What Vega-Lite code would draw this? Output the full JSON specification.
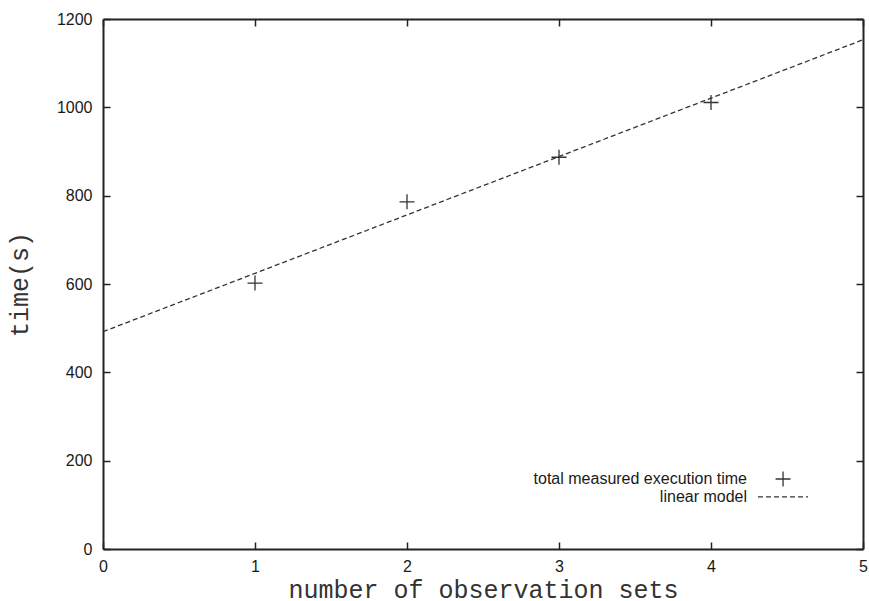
{
  "$schema": "https://vega.github.io/schema/vega-lite/v6.json",
  "width": 760,
  "height": 530,
  "autosize": {"type": "none"},
  "padding": {"left": 103, "top": 19, "right": 6, "bottom": 52},
  "background": "white",
  "config": {
    "view": {"stroke": null},
    "axis": {
      "domainColor": "#222222",
      "domainWidth": 2,
      "tickColor": "#222222",
      "tickWidth": 1.5,
      "tickSize": -7,
      "grid": false,
      "labelFont": "Liberation Sans",
      "labelFontSize": 16,
      "labelColor": "#1a1a1a",
      "labelOverlap": false,
      "labelFlush": false,
      "labelBound": false,
      "titleFont": "Liberation Mono",
      "titleFontSize": 25,
      "titleFontWeight": "normal",
      "titleColor": "#333333"
    }
  },
  "datasets": {
    "measured": [
      {"sets": 1, "time": 602},
      {"sets": 2, "time": 786},
      {"sets": 3, "time": 887},
      {"sets": 4, "time": 1011}
    ],
    "model": [
      {"sets": 0, "time": 492},
      {"sets": 5, "time": 1153}
    ]
  },
  "layer": [
    {
      "data": {"name": "model"},
      "mark": {"type": "line", "color": "#333333", "strokeWidth": 1.3, "strokeDash": [5, 3], "clip": true},
      "encoding": {
        "x": {"field": "sets", "type": "quantitative", "scale": {"domain": [0, 5], "nice": false},
          "axis": {"orient": "bottom", "title": "number of observation sets", "format": "d", "values": [0, 1, 2, 3, 4, 5], "labelPadding": 16, "titleY": 48, "titleBaseline": "alphabetic", "titleX": 380, "titleAlign": "center"}},
        "y": {"field": "time", "type": "quantitative", "scale": {"domain": [0, 1200], "nice": false},
          "axis": {"orient": "left", "title": "time(s)", "format": "d", "values": [0, 200, 400, 600, 800, 1000, 1200], "labelPadding": 18, "titleX": -84, "titleY": 265, "titleAngle": -90, "titleAlign": "center", "titleBaseline": "middle"}}
      }
    },
    {
      "data": {"name": "measured"},
      "mark": {"type": "point", "shape": "M-1,0H1M0,-1V1", "filled": false, "color": "#333333", "strokeWidth": 1.3, "size": 225, "opacity": 1},
      "encoding": {
        "x": {"field": "sets", "type": "quantitative",
          "axis": {"orient": "top", "title": null, "labels": false, "values": [0, 1, 2, 3, 4, 5]}},
        "y": {"field": "time", "type": "quantitative",
          "axis": {"orient": "right", "title": null, "labels": false, "values": [0, 200, 400, 600, 800, 1000, 1200]}}
      }
    },
    {
      "data": {"values": [{"label": "total measured execution time"}]},
      "mark": {"type": "text", "align": "right", "baseline": "middle", "font": "Liberation Sans", "fontSize": 16, "color": "#1a1a1a"},
      "encoding": {
        "x": {"datum": 4.237, "type": "quantitative", "axis": null},
        "y": {"datum": 158.5, "type": "quantitative", "axis": null},
        "text": {"field": "label"}
      }
    },
    {
      "data": {"values": [{"label": "linear model"}]},
      "mark": {"type": "text", "align": "right", "baseline": "middle", "font": "Liberation Sans", "fontSize": 16, "color": "#1a1a1a"},
      "encoding": {
        "x": {"datum": 4.237, "type": "quantitative", "axis": null},
        "y": {"datum": 118, "type": "quantitative", "axis": null},
        "text": {"field": "label"}
      }
    },
    {
      "data": {"values": [{"k": "total measured execution time"}]},
      "mark": {"type": "point", "shape": "M-1,0H1M0,-1V1", "filled": false, "color": "#333333", "strokeWidth": 1.3, "size": 225, "opacity": 1},
      "encoding": {
        "x": {"datum": 4.474, "type": "quantitative", "axis": null},
        "y": {"datum": 158.5, "type": "quantitative", "axis": null}
      }
    },
    {
      "data": {"values": [{"k": "linear model"}]},
      "mark": {"type": "rule", "color": "#333333", "strokeWidth": 1.3, "strokeDash": [5, 3]},
      "encoding": {
        "x": {"datum": 4.309, "type": "quantitative", "axis": null},
        "x2": {"datum": 4.638},
        "y": {"datum": 118, "type": "quantitative", "axis": null}
      }
    }
  ],
  "resolve": {"axis": {"x": "independent", "y": "independent"}}
}
